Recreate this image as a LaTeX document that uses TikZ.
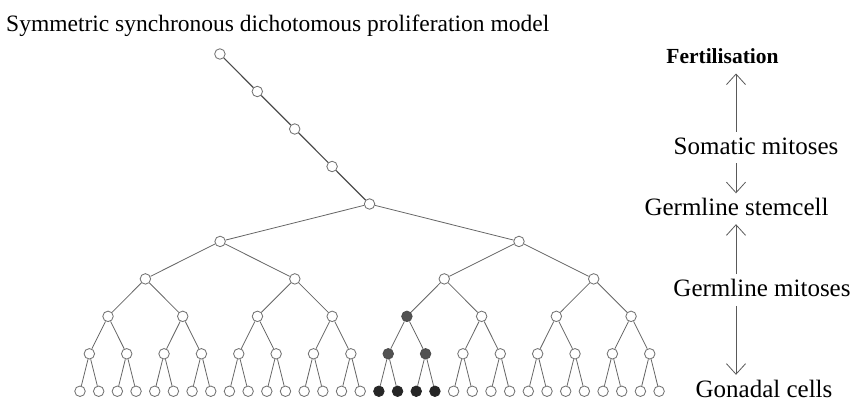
\documentclass[tikz,border=0pt]{standalone}
\usepackage{fontspec}
\setmainfont{Liberation Serif}
\usetikzlibrary{arrows.meta}
\tikzset{
  cell/.style={circle, draw=black!55, fill=white, line width=0.85pt, minimum size=10.5pt, inner sep=0pt},
  darkcell/.style={cell, draw=black!70, fill=black!68},
  blackcell/.style={cell, draw=black!85, fill=black!85},
  branch/.style={draw=black!60, line width=0.8pt},
  stem/.style={draw=black!70, line width=1.2pt},
  label/.style={inner sep=0pt, text height=17pt, text depth=0pt, font=\fontsize{25}{30}\selectfont},
  arrow/.style={-{Straight Barb[length=10.5pt,width=19pt]}, draw=black!65, line width=0.8pt}
}

\begin{document}
\begin{tikzpicture}[x=1pt, y=-1pt]
\useasboundingbox (0,0) rectangle (858,403);

% title
\node[anchor=base west, inner sep=0pt, font=\fontsize{23.5}{28}\selectfont] (title) at (6,32)
  {Symmetric synchronous dichotomous proliferation model};

% cells of the tree, level 0 is the germline stemcell
\foreach \lev in {0,...,5}{
  \pgfmathtruncatemacro{\cnt}{2^\lev-1}
  \pgfmathsetmacro{\grp}{2^(5-\lev)}
  \foreach \i in {0,...,\cnt}{
    \def\sty{cell}
    \ifnum\lev=3 \ifnum\i=4 \def\sty{darkcell}\fi\fi
    \ifnum\lev=4 \ifnum\i>7 \ifnum\i<10 \def\sty{darkcell}\fi\fi\fi
    \ifnum\lev=5 \ifnum\i>15 \ifnum\i<20 \def\sty{blackcell}\fi\fi\fi
    \node[\sty] (n\lev-\i) at ({80+18.68*(\grp*\i+(\grp-1)/2)},{204+37.45*\lev}) {};
  }
}
% somatic cells above
\foreach \k in {1,...,4}
  \node[cell] (c\k) at ({369.5-37.4*\k},{204-37.5*\k}) {};

% branches
\foreach \lev in {1,...,5}{
  \pgfmathtruncatemacro{\cnt}{2^\lev-1}
  \pgfmathtruncatemacro{\prev}{\lev-1}
  \foreach \i in {0,...,\cnt}{
    \pgfmathtruncatemacro{\up}{floor(\i/2)}
    \draw[branch] (n\prev-\up) -- (n\lev-\i);
  }
}
\draw[stem] (c1) -- (n0-0);
\draw[stem] (c2) -- (c1);
\draw[stem] (c3) -- (c2);
\draw[stem] (c4) -- (c3);

% labels on the right
\coordinate (axis) at (736,0);
\node[label, anchor=base, font=\fontsize{21.5}{26}\selectfont\bfseries] (fert) at (722.5,63.3) {Fertilisation};
\node[label, anchor=base] (somatic) at (756,155) {Somatic mitoses};
\node[label, anchor=base] (stemcell) at (736.5,215) {Germline stemcell};
\node[label, anchor=base] (germmit) at (762,296.7) {Germline mitoses};
\node[label, anchor=base] (gonadal) at (764,397) {Gonadal cells};

\draw[arrow, shorten <=6pt, shorten >=10pt] (somatic.north -| axis) -- (fert.south -| axis);
\draw[arrow, shorten <=8pt, shorten >=4.5pt] (somatic.south -| axis) -- (stemcell.north -| axis);
\draw[arrow, shorten <=5.5pt, shorten >=9pt] (germmit.north -| axis) -- (stemcell.south -| axis);
\draw[arrow, shorten <=9pt, shorten >=5pt] (germmit.south -| axis) -- (gonadal.north -| axis);
\end{tikzpicture}
\end{document}
